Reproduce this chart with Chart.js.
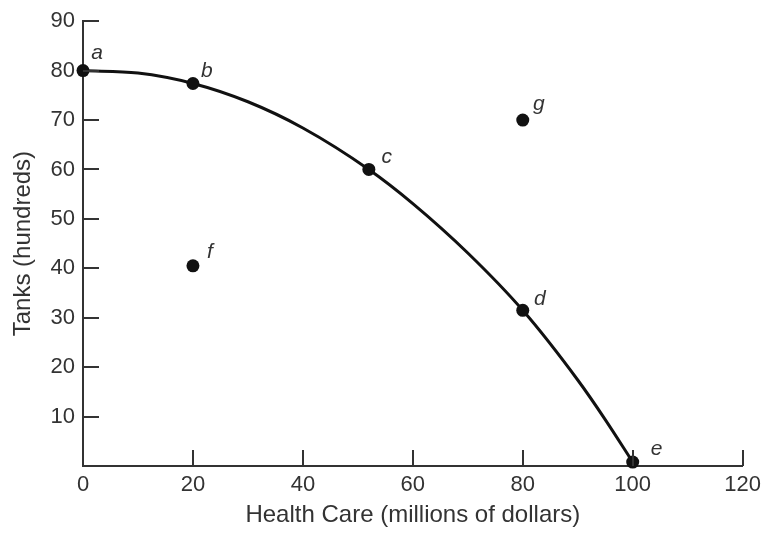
<!DOCTYPE html>
<html>
<head>
<meta charset="utf-8">
<script src="https://cdn.jsdelivr.net/npm/chart.js@4"></script>
<style>
    html, body { margin: 0; padding: 0; background: #ffffff; }
    #wrap { width: 767px; height: 535px; }
</style>
</head>
<body>
<div id="wrap"><canvas id="ppfChart" width="767" height="535"></canvas></div>
<script>
// Frontier curve
const frontierX = [0, 10, 20, 30, 40, 52, 60, 70, 80, 90, 95, 100];
const frontierY = [80, 79.5, 77.4, 73.7, 68.4, 60, 53.1, 43.1, 31.5, 17.4, 9.4, 0.8];

// Labelled points
const pointNames = ['a', 'b', 'c', 'd', 'e', 'f', 'g'];
const pointX = [0, 20, 52, 80, 100, 20, 80];
const pointY = [80, 77.4, 60, 31.5, 0.8, 40.5, 70];

const xTicks = [0, 20, 40, 60, 80, 100, 120];
const yTicks = [10, 20, 30, 40, 50, 60, 70, 80, 90];

const ink = '#333333';

// label offsets beside each dot (pixels)
const labelOffsets = {
    a: [14, -17], b: [14, -12], c: [18, -12], d: [17, -11],
    e: [24, -13], f: [17, -14], g: [16, -16]
};

// Inward tick marks on both axes
const innerTicks = {
    id: 'innerTicks',
    afterDatasetsDraw(chart) {
        const ctx = chart.ctx;
        const xs = chart.scales.x;
        const ys = chart.scales.y;
        const area = chart.chartArea;
        ctx.save();
        ctx.strokeStyle = ink;
        ctx.lineWidth = 2;
        ctx.beginPath();
        xTicks.forEach(function(v) {
            if (v === 0) return;
            const px = Math.round(xs.getPixelForValue(v));
            ctx.moveTo(px, area.bottom);
            ctx.lineTo(px, area.bottom - 16);
        });
        yTicks.forEach(function(v) {
            const py = Math.round(ys.getPixelForValue(v));
            ctx.moveTo(area.left, py);
            ctx.lineTo(area.left + 16, py);
        });
        ctx.stroke();
        ctx.restore();
    }
};

// Italic letters next to the points
const pointLetters = {
    id: 'pointLetters',
    afterDatasetsDraw(chart) {
        const ctx = chart.ctx;
        ctx.save();
        ctx.fillStyle = ink;
        ctx.font = 'italic 21px "Liberation Sans", Arial, sans-serif';
        ctx.textAlign = 'center';
        ctx.textBaseline = 'middle';
        chart.data.datasets.forEach(function(ds, i) {
            if (!ds.letters) return;
            const meta = chart.getDatasetMeta(i);
            meta.data.forEach(function(pt, j) {
                const name = ds.letters[j];
                const off = labelOffsets[name];
                ctx.fillText(name, pt.x + off[0], pt.y + off[1]);
            });
        });
        ctx.restore();
    }
};

document.addEventListener('DOMContentLoaded', function() {
    const ctx = document.getElementById('ppfChart');
    new Chart(ctx, {
        type: 'scatter',
        data: {
            datasets: [{
                letters: pointNames,
                data: pointX.map(function(x, i) { return { x: x, y: pointY[i] }; }),
                showLine: false,
                pointRadius: 6.5,
                pointBackgroundColor: '#111111',
                pointBorderWidth: 0,
                clip: false
            }, {
                data: frontierX.map(function(x, i) { return { x: x, y: frontierY[i] }; }),
                showLine: true,
                borderColor: '#111111',
                borderWidth: 3,
                cubicInterpolationMode: 'monotone',
                pointRadius: 0,
                clip: false
            }]
        },
        options: {
            responsive: false,
            animation: false,
            layout: { padding: { top: 15, right: 21, left: 0, bottom: 0 } },
            plugins: {
                legend: { display: false },
                tooltip: { enabled: false }
            },
            scales: {
                x: {
                    type: 'linear',
                    min: 0,
                    max: 120,
                    afterFit: function(s) { s.height = 69; },
                    grid: { display: false, drawTicks: false },
                    border: { display: true, color: ink, width: 2 },
                    ticks: {
                        stepSize: 20,
                        color: ink,
                        padding: 6,
                        font: { family: '"Liberation Sans", Arial, sans-serif', size: 22 }
                    },
                    title: {
                        display: true,
                        text: 'Health Care (millions of dollars)',
                        color: ink,
                        padding: { top: 0, bottom: 5 },
                        font: { family: '"Liberation Sans", Arial, sans-serif', size: 24 }
                    }
                },
                y: {
                    type: 'linear',
                    min: 0,
                    max: 90,
                    afterFit: function(s) { s.width = 83; },
                    grid: { display: false, drawTicks: false },
                    border: { display: true, color: ink, width: 2 },
                    ticks: {
                        stepSize: 10,
                        color: ink,
                        padding: 8,
                        font: { family: '"Liberation Sans", Arial, sans-serif', size: 22 },
                        callback: function(v) { return v === 0 ? '' : v; }
                    },
                    title: {
                        display: true,
                        text: 'Tanks (hundreds)',
                        color: ink,
                        padding: { top: 9, bottom: 0 },
                        font: { family: '"Liberation Sans", Arial, sans-serif', size: 24 }
                    }
                }
            }
        },
        plugins: [innerTicks, pointLetters]
    });
});
</script>
</body>
</html>
